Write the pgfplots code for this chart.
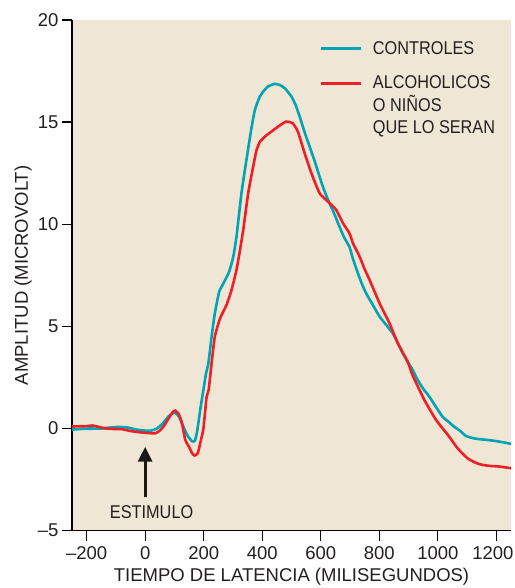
\documentclass[border=0pt]{standalone}
\usepackage{pgfplots}
\pgfplotsset{compat=1.18}
\usepackage{fontspec}
\setmainfont{Liberation Sans}
\newfontfamily\narrowfont[FakeStretch=0.88]{Liberation Sans}
\usetikzlibrary{arrows.meta}
\definecolor{bg}{RGB}{239,230,213}
\definecolor{cyanc}{RGB}{0,164,180}
\definecolor{redc}{RGB}{237,32,39}
\definecolor{txt}{RGB}{35,31,32}
\pgfplotsset{
  redlegend/.style={legend image code/.code={\draw[##1, line width=3pt] (0pt,22.5pt) -- (40pt,22.5pt);}},
}

\begin{document}
\begin{tikzpicture}
\begin{axis}[
  at={(72pt,57.3pt)}, anchor=south west,
  scale only axis, width=439pt, height=510.7pt,
  xmin=-250, xmax=1250, ymin=-5, ymax=20,
  axis x line*=bottom, axis y line*=left,
  axis background/.style={fill=bg},
  axis line style={line width=1.3pt, black},
  xtick={-200,0,...,1200}, xticklabels={–200,0,200,400,600,800,1000,\hspace*{-7pt}1200},
  ytick={-5,0,...,20}, yticklabels={–5,0,5,10,15,20},
  tick align=outside, major tick length=10pt,
  tick style={line width=1.3pt, black},
  tick label style={font=\fontsize{18.5}{22}\selectfont, text=txt},
  xticklabel style={yshift=-2pt},
  xlabel={TIEMPO DE LATENCIA (MILISEGUNDOS)},
  ylabel={AMPLITUD (MICROVOLT)},
  label style={font=\fontsize{18.5}{22}\selectfont, text=txt},
  xlabel style={at={(axis description cs:0.5,-0.0907)}, anchor=center},
  ylabel style={at={(axis description cs:-0.1116,0.5)}, anchor=center},
  legend style={at={(rel axis cs:0.5576,0.966)}, anchor=north west, draw=none, fill=none,
    font=\narrowfont\fontsize{18.5}{22.5}\selectfont, text=txt,
    nodes={align=left}, row sep=16pt, column sep=8pt},
  legend cell align=left,
  legend image code/.code={\draw[#1, line width=3pt] (0pt,0pt) -- (40pt,0pt);},
]
\addplot[cyanc, line width=2.6pt, smooth, tension=0.3] coordinates {
(-250,-0.05) (-200,0.0) (-150,0.0) (-120,0.05) (-90,0.08) (-60,0.05) (-30,-0.05)
(0,-0.1) (20,-0.1) (40,0.0) (60,0.25) (80,0.6) (100,0.78) (115,0.6) (130,0.1)
(145,-0.35) (160,-0.62) (170,-0.6) (178,-0.1) (188,0.9) (199,1.9) (208,2.7)
(216,3.2) (227,4.5) (238,5.64) (253,6.7) (267,7.1) (287,7.68) (301,8.41)
(312,9.39) (329,11.52) (346,13.15) (364,14.78) (375,15.6) (390,16.2) (403,16.49)
(420,16.75) (443,16.87) (460,16.82) (477,16.66) (500,16.25) (515,15.8)
(528,15.27) (545,14.5) (562,13.8) (580,13.05) (596,12.33) (612,11.65)
(630,11.03) (645,10.55) (664,9.88) (680,9.35) (698,8.9) (710,8.3) (727,7.6)
(740,7.1) (755,6.62) (780,6.0) (801,5.48) (825,5.05) (846,4.66) (863,4.2)
(880,3.69) (900,3.2) (914,2.87) (931,2.38) (950,1.95) (971,1.56) (994,1.05)
(1016,0.58) (1035,0.35) (1056,0.09) (1075,-0.1) (1096,-0.36) (1120,-0.47)
(1143,-0.52) (1165,-0.55) (1187,-0.59) (1215,-0.65) (1250,-0.75)
};
\addlegendentry{CONTROLES}
\addplot[redc, line width=2.6pt, smooth, tension=0.3, redlegend] coordinates {
(-250,0.1) (-200,0.12) (-180,0.15) (-150,0.05) (-130,0.0) (-110,-0.02) (-80,-0.03)
(-50,-0.12) (-20,-0.18) (10,-0.22) (35,-0.23) (50,-0.1) (65,0.15) (80,0.5)
(95,0.82) (103,0.88) (115,0.7) (125,0.3) (137,-0.55) (150,-0.9) (160,-1.2)
(169,-1.32) (180,-1.2) (190,-0.6) (199,0.0) (210,1.56) (217,1.89) (227,3.2)
(238,4.5) (256,5.4) (278,6.05) (295,6.78) (312,7.76) (324,8.74) (335,9.72)
(352,11.52) (369,12.82) (380,13.6) (392,14.04) (410,14.3) (426,14.48)
(454,14.78) (480,15.02) (495,15.0) (505,14.94) (522,14.53) (545,13.47)
(568,12.5) (596,11.52) (625,11.1) (640,10.9) (653,10.7) (676,10.05) (698,9.56)
(710,9.07) (733,8.41) (750,7.8) (767,7.27) (801,6.13) (835,5.15) (863,4.18)
(897,3.27) (914,2.6) (954,1.4) (994,0.42) (1039,-0.4) (1067,-0.96) (1101,-1.45)
(1130,-1.68) (1153,-1.78) (1180,-1.83) (1210,-1.86) (1250,-1.94)
};
\addlegendentry{ALCOHOLICOS\\O NIÑOS\\QUE LO SERAN}
\draw[-{Triangle[length=15pt,width=14pt]}, line width=3pt, black!90]
  (axis cs:0,-3.33) -- (axis cs:0,-0.89);
\node[font=\narrowfont\fontsize{18.5}{22}\selectfont, text=txt] at (axis cs:22,-4.1) {ESTIMULO};
\end{axis}
\pgfresetboundingbox
\useasboundingbox (0pt,0pt) rectangle (514pt,588pt);
\end{tikzpicture}
\end{document}
